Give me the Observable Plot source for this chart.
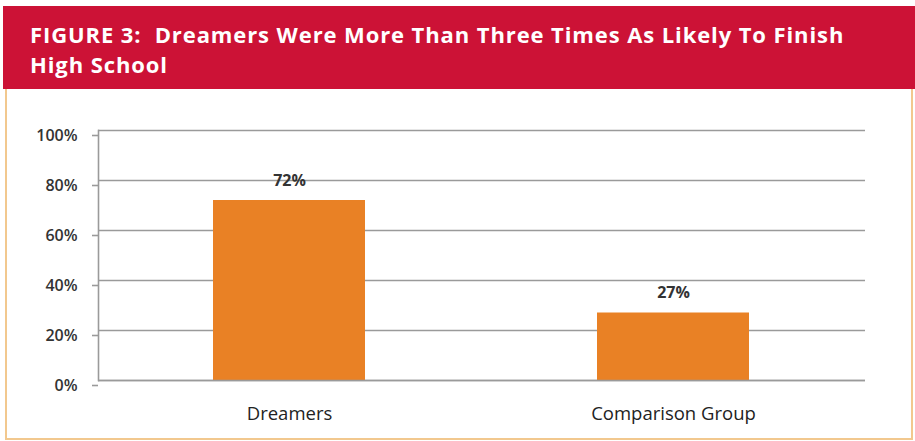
<!DOCTYPE html>
<html>
<head>
<meta charset="utf-8">
<script src="https://cdn.jsdelivr.net/npm/d3@7"></script>
<script src="https://cdn.jsdelivr.net/npm/@observablehq/plot@0.6"></script>
<style>
  html, body { margin: 0; padding: 0; background: #fff; }
  body { position: relative; width: 915px; height: 441px; overflow: hidden; }
  #header { position: absolute; left: 3px; top: 6px; width: 912px; height: 83px; background: #CC1236; }
  #title { position: absolute; left: 30px; top: 19px; width: 885px; color: #fff; font-family: "Open Sans", sans-serif; font-weight: 700; font-size: 22px; line-height: 30px; letter-spacing: 0.9px; white-space: nowrap; }
  #box { position: absolute; left: 5px; top: 89px; width: 904px; height: 349px; border: 2px solid #F2C88E; border-top: none; }
  #chart { position: absolute; left: 0; top: 89px; }
</style>
</head>
<body>
<div id="header"></div>
<div id="title">FIGURE 3:&nbsp; Dreamers Were More Than Three Times As Likely To Finish<br>High School</div>
<div id="box"></div>
<div id="chart"></div>
<script>
const categories = ["Dreamers", "Comparison Group"];
const values = [72, 27];
const valueLabels = ["72%", "27%"];
const yTicks = [0, 20, 40, 60, 80, 100];

const data = categories.map((c, i) => ({category: c, value: values[i], label: valueLabels[i]}));

const chart = Plot.plot({
  width: 915,
  height: 352,
  marginTop: 41,
  marginBottom: 61,
  marginLeft: 98,
  marginRight: 50,
  style: {fontFamily: "Open Sans, sans-serif", background: "transparent"},
  x: {domain: categories, paddingInner: 0.604, paddingOuter: 0.3, align: 0.5},
  y: {domain: [0, 100]},
  marks: [
    Plot.gridY(yTicks, {stroke: "#9a9a9a", strokeOpacity: 1, strokeWidth: 1.6}),
    Plot.axisY(yTicks, {tickFormat: d => d + "%", tickSize: 6, tickPadding: 15, fontSize: 16, fontWeight: 600, fill: "#333", stroke: "#9a9a9a", strokeWidth: 1.6, dy: 5, label: null}),
    Plot.frame({anchor: "left", stroke: "#9a9a9a", strokeWidth: 1.6}),
    Plot.barY(data, {x: "category", y: "value", fill: "#E98125"}),
    Plot.ruleY([0], {stroke: "#9a9a9a", strokeWidth: 1.6}),
    Plot.text(data, {x: "category", y: "value", text: "label", dy: -20, fontSize: 16, fontWeight: "bold", fill: "#333"}),
    Plot.axisX({tickSize: 0, tickPadding: 26, fontSize: 18.5, fill: "#222", label: null})
  ]
});
document.getElementById("chart").appendChild(chart);
</script>
</body>
</html>
